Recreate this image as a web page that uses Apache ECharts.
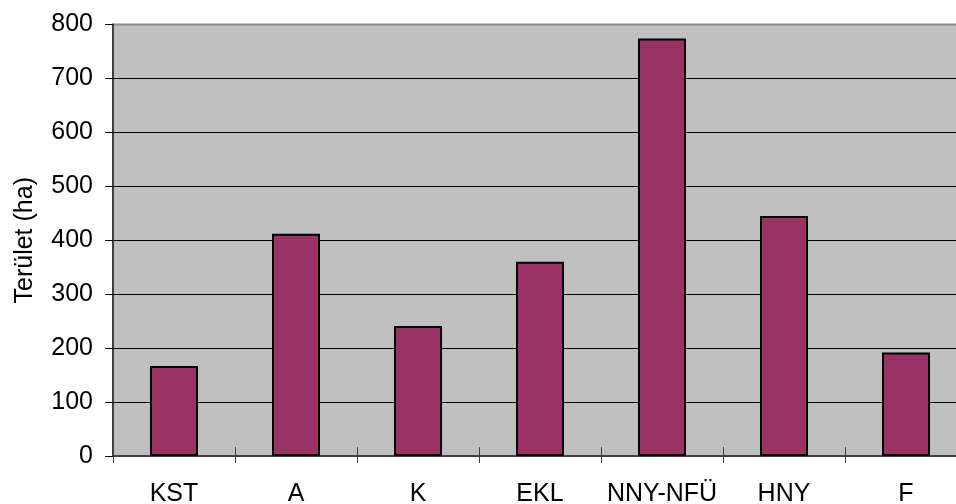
<!DOCTYPE html>
<html>
<head>
<meta charset="utf-8">
<script src="https://cdn.jsdelivr.net/npm/echarts@6/dist/echarts.min.js"></script>
<style>
html,body{margin:0;padding:0;background:#fff;}
#chart{width:956px;height:504px;}
</style>
</head>
<body>
<div id="chart"></div>
<script>
var categories = ['KST', 'A', 'K', 'EKL', 'NNY-NFÜ', 'HNY', 'F'];
var values = [167, 412, 241, 360, 774, 445, 192];
var yTitle = 'Terület (ha)';

var chart = echarts.init(document.getElementById('chart'), null, {renderer: 'canvas'});
var font = 'Liberation Sans, Arial, sans-serif';
chart.setOption({
  animation: false,
  backgroundColor: '#ffffff',
  grid: {
    left: 113, top: 24.5, width: 854, height: 431.5,
    outerBoundsMode: 'none',
    containLabel: false,
    show: true, backgroundColor: '#c0c0c0', borderColor: '#8a8a8a', borderWidth: 2
  },
  xAxis: [{
    type: 'category',
    data: categories,
    boundaryGap: true,
    axisLine: {show: true, lineStyle: {color: '#404040', width: 2}},
    axisTick: {show: true, length: 7, lineStyle: {color: '#404040', width: 1}},
    axisLabel: {color: '#000', fontSize: 25, fontFamily: font, margin: 26, interval: 0},
    splitLine: {show: false}
  }, {
    type: 'category',
    data: categories,
    position: 'bottom',
    boundaryGap: true,
    axisLine: {show: false},
    axisTick: {show: true, inside: true, length: 9, lineStyle: {color: '#404040', width: 1}},
    axisLabel: {show: false},
    splitLine: {show: false}
  }],
  yAxis: {
    type: 'value',
    min: 0, max: 800, interval: 100,
    name: yTitle,
    nameLocation: 'middle',
    nameGap: 75,
    nameRotate: 90,
    nameTextStyle: {color: '#000', fontSize: 25, fontFamily: font},
    axisLine: {show: true, lineStyle: {color: '#404040', width: 2}},
    axisTick: {show: true, length: 8, lineStyle: {color: '#000', width: 1}},
    axisLabel: {color: '#000', fontSize: 25, fontFamily: font, margin: 20},
    splitLine: {show: true, lineStyle: {color: ['#404040', '#000', '#000', '#000', '#000', '#000', '#000', '#000', '#8a8a8a'], width: 1}}
  },
  series: [{
    type: 'bar',
    xAxisIndex: 0,
    data: values,
    barWidth: 48,
    itemStyle: {color: '#993366', borderColor: '#000', borderWidth: 2}
  }]
});
</script>
</body>
</html>
